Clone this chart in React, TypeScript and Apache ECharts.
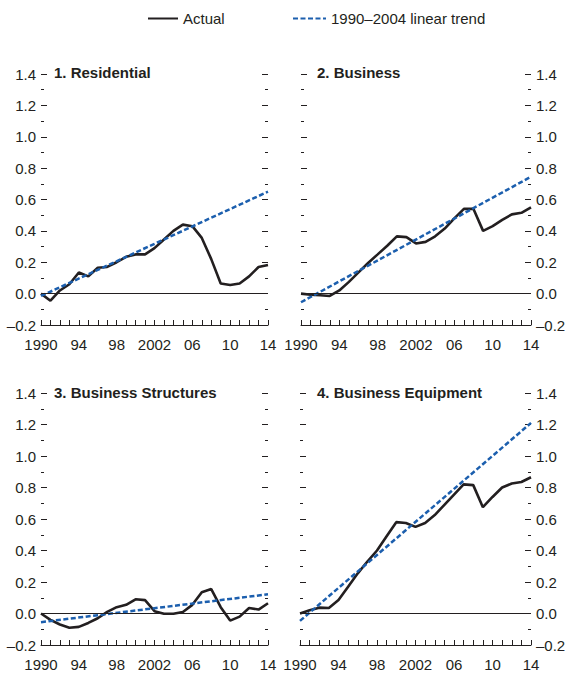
import React, { useEffect, useRef } from "react";
import * as echarts from "echarts";

// ---- Data ----
const years = [
  "1990", "1991", "1992", "1993", "1994", "1995", "1996", "1997", "1998", "1999",
  "2000", "2001", "2002", "2003", "2004", "2005", "2006", "2007", "2008", "2009",
  "2010", "2011", "2012", "2013", "2014",
];
const xTickYears = ["1990", "1994", "1998", "2002", "2006", "2010", "2014"];
const xTickLabels = ["1990", "94", "98", "2002", "06", "10", "14"];

const residentialActual = [
  0.0, -0.045, 0.02, 0.06, 0.135, 0.11, 0.165, 0.17, 0.2, 0.235,
  0.25, 0.25, 0.29, 0.345, 0.4, 0.44, 0.43, 0.355, 0.22, 0.065,
  0.055, 0.065, 0.11, 0.17, 0.183,
];
const residentialTrend = [-0.015, 0.65]; // 1990, 2014

const businessActual = [
  0.0, -0.007, -0.01, -0.015, 0.02, 0.075, 0.135, 0.195, 0.25, 0.305,
  0.365, 0.36, 0.32, 0.33, 0.365, 0.415, 0.48, 0.54, 0.54, 0.4,
  0.43, 0.47, 0.505, 0.515, 0.55,
];
const businessTrend = [-0.055, 0.745];

const structuresActual = [
  0.0, -0.04, -0.07, -0.09, -0.085, -0.06, -0.03, 0.01, 0.04, 0.055,
  0.09, 0.085, 0.015, -0.002, -0.002, 0.01, 0.055, 0.135, 0.155, 0.04,
  -0.045, -0.02, 0.035, 0.025, 0.065,
];
const structuresTrend = [-0.055, 0.122];

const equipmentActual = [
  0.0, 0.02, 0.037, 0.035, 0.085, 0.17, 0.255, 0.33, 0.4, 0.49,
  0.58, 0.575, 0.55, 0.575, 0.625, 0.69, 0.755, 0.82, 0.815, 0.675,
  0.74, 0.8, 0.825, 0.835, 0.865,
];
const equipmentTrend = [-0.047, 1.21];

const panelTitles = ["1. Residential", "2. Business", "3. Business Structures", "4. Business Equipment"];
const seriesNames = ["Actual", "1990–2004 linear trend"];
const yMin = -0.2;
const yMax = 1.4;
const yInterval = 0.2;

// ---- Layout / style ----
const INK = "#231f20";
const BLUE = "#1c5fae";
const FONT = "'Liberation Sans', Arial, Helvetica, sans-serif";
const FS = 15;

const grids = [
  { left: 41, top: 74, width: 227, height: 251, labelSide: "left" },
  { left: 301, top: 74, width: 230, height: 251, labelSide: "right" },
  { left: 41, top: 393, width: 227, height: 252, labelSide: "left" },
  { left: 300, top: 393, width: 231, height: 252, labelSide: "right" },
];
const titlePos = [
  { left: 54, top: 65 },
  { left: 317, top: 65 },
  { left: 54, top: 385 },
  { left: 317, top: 385 },
];

const panelData = [
  { actual: residentialActual, trend: residentialTrend },
  { actual: businessActual, trend: businessTrend },
  { actual: structuresActual, trend: structuresTrend },
  { actual: equipmentActual, trend: equipmentTrend },
];

function fmtY(v: number) {
  const s = Math.abs(v).toFixed(1);
  return v < -1e-9 ? "–" + s : s;
}

export default function App() {
  const ref = useRef<HTMLDivElement>(null);
  useEffect(() => {
    if (!ref.current) return;
    const chart = echarts.init(ref.current, undefined, { renderer: "svg" });

    const xAxis: any[] = [];
    const yAxis: any[] = [];
    const series: any[] = [];

    grids.forEach((g, i) => {
      xAxis.push({
        type: "category",
        gridIndex: i,
        data: years,
        boundaryGap: false,
        axisLine: { show: true, onZero: false, lineStyle: { color: INK, width: 1 } },
        axisTick: { show: true, inside: true, length: 5, interval: 0, lineStyle: { color: INK, width: 1 } },
        axisLabel: {
          show: true,
          margin: 12,
          fontSize: FS,
          fontFamily: FONT,
          color: INK,
          interval: (_idx: number, val: string) => xTickYears.indexOf(val) >= 0,
          formatter: (val: string) => {
            const k = xTickYears.indexOf(val);
            return k >= 0 ? xTickLabels[k] : "";
          },
        },
        splitLine: { show: false },
      });
      ["left", "right"].forEach((pos) => {
        yAxis.push({
          type: "value",
          gridIndex: i,
          position: pos,
          min: yMin,
          max: yMax,
          interval: yInterval,
          axisLine: { show: false },
          axisTick: { show: true, inside: true, length: 6, lineStyle: { color: INK, width: 1 } },
          minorTick: { show: true, splitNumber: 2, length: 3, lineStyle: { color: INK, width: 1 } },
          minorSplitLine: { show: false },
          splitLine: { show: false },
          axisLabel: {
            show: pos === g.labelSide,
            margin: 5,
            fontSize: FS,
            fontFamily: FONT,
            color: INK,
            formatter: fmtY,
          },
        });
      });
      const d = panelData[i];
      series.push({
        name: seriesNames[0],
        type: "line",
        xAxisIndex: i,
        yAxisIndex: 2 * i,
        data: d.actual,
        symbol: "none",
        lineStyle: { color: INK, width: 2.6 },
        itemStyle: { color: INK },
        z: 2,
        markLine: {
          silent: true,
          symbol: ["none", "none"],
          label: { show: false },
          lineStyle: { color: INK, width: 1, type: "solid" },
          data: [{ yAxis: 0 }],
        },
      });
      series.push({
        name: seriesNames[1],
        type: "line",
        xAxisIndex: i,
        yAxisIndex: 2 * i,
        data: [
          [years[0], d.trend[0]],
          [years[years.length - 1], d.trend[1]],
        ],
        symbol: "none",
        lineStyle: { color: BLUE, width: 2.5, type: [5, 2.5] },
        itemStyle: { color: BLUE },
        z: 3,
      });
    });

    const legendCommon = {
      top: 11,
      padding: 0,
      itemHeight: 14,
      selectedMode: false,
      itemStyle: { opacity: 0 },
      textStyle: { fontSize: FS, color: INK, fontFamily: FONT },
    };

    chart.setOption({
      animation: false,
      backgroundColor: "#ffffff",
      textStyle: { fontFamily: FONT },
      title: panelTitles.map((t, i) => ({
        text: t,
        left: titlePos[i].left,
        top: titlePos[i].top,
        padding: 0,
        textStyle: { fontSize: FS, fontWeight: "bold", color: INK, fontFamily: FONT },
      })),
      legend: [
        { ...legendCommon, data: [seriesNames[0]], left: 147, itemWidth: 30 },
        { ...legendCommon, data: [seriesNames[1]], left: 292, itemWidth: 33 },
      ],
      grid: grids.map((g) => ({ left: g.left, top: g.top, width: g.width, height: g.height, containLabel: false })),
      xAxis,
      yAxis,
      series,
    });

    return () => chart.dispose();
  }, []);

  return (
    <div
      ref={ref}
      style={{ position: "fixed", left: 0, top: 0, width: 576, height: 682, background: "#fff" }}
    />
  );
}
